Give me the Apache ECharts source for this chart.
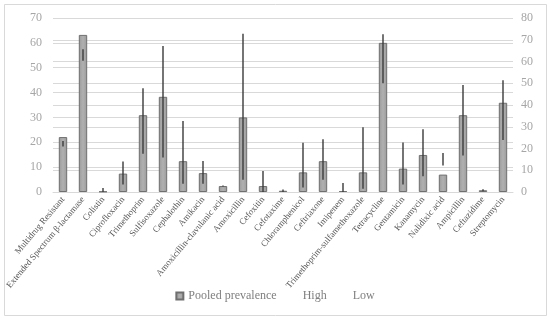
<!DOCTYPE html>
<html>
<head>
<meta charset="utf-8">
<script src="https://cdn.jsdelivr.net/npm/echarts@6/dist/echarts.min.js"></script>
<style>html,body{margin:0;padding:0;background:#fff;}#c{width:550px;height:326px;}</style>
</head>
<body>
<div id="c"></div>
<script>
const categories = ['Multidrug Resistant','Extended Spectrum β-lactamase','Colistin','Ciprofloxacin','Trimethoprim','Sulfisoxazole','Cephalothin','Amikacin','Amoxicillin-clavulanic acid','Amoxicillin','Cefoxitin','Cefotaxime','Chloramphenicol','Ceftriaxone','Imipenem','Trimethoprim-sulfamethoxazole','Tetracycline','Gentamicin','Kanamycin','Nalidixic acid','Ampicillin','Ceftazidime','Streptomycin'];
const pooled = [22.1, 63.2, 0.2, 7.4, 30.9, 38.3, 12.4, 7.6, 2.4, 30.0, 2.4, 0.5, 7.9, 12.4, 0.4, 7.9, 60.0, 9.4, 14.9, 7.0, 30.9, 0.7, 35.9];
const high = [23.5, 65.6, 1.8, 14.0, 47.7, 67.1, 32.7, 14.2, 3.0, 72.8, 9.6, 1.2, 22.6, 24.3, 4.1, 29.8, 72.5, 22.8, 28.9, 17.9, 49.2, 1.3, 51.4];
const low = [20.9, 60.4, 0.0, 3.4, 17.6, 15.9, 3.8, 3.8, 2.5, 5.6, 0.0, 0.0, 2.1, 5.6, 0.0, 1.5, 50.0, 3.5, 7.2, 12.2, 16.8, 0.4, 23.9];
const leftTicks = {min: 0, max: 70, interval: 10};
const rightTicks = {min: 0, max: 80, interval: 10};

const serif = '"Liberation Serif", "DejaVu Serif", serif';
const chart = echarts.init(document.getElementById('c'), null, {renderer: 'canvas'});
chart.setOption({
  animation: false,
  backgroundColor: '#fff',
  graphic: [{type: 'rect', shape: {x: 4.5, y: 4.5, width: 542, height: 311}, style: {fill: 'none', stroke: '#d9d9d9', lineWidth: 1}, silent: true, z: -1}],
  grid: {left: 53, right: 37, top: 18, bottom: 134, containLabel: false, outerBoundsMode: 'none'},
  legend: {
    bottom: 19, left: 'center',
    itemWidth: 7, itemHeight: 7, itemGap: 14,
    textStyle: {fontFamily: serif, fontSize: 12, color: '#7f7f7f'},
    data: [{name: 'Pooled prevalence', icon: 'rect'}, {name: 'High', icon: 'none'}, {name: 'Low', icon: 'none'}]
  },
  xAxis: {
    type: 'category', data: categories,
    axisLine: {show: true, lineStyle: {color: '#d9d9d9'}},
    axisTick: {show: false},
    axisLabel: {interval: 0, rotate: 50, fontFamily: serif, fontSize: 9, color: '#595959', margin: 6, hideOverlap: false}
  },
  yAxis: [
    {type: 'value', min: leftTicks.min, max: leftTicks.max, interval: leftTicks.interval,
     axisLine: {show: false}, axisTick: {show: false},
     axisLabel: {fontFamily: serif, fontSize: 12, color: '#a6a6a6', margin: 11},
     splitLine: {lineStyle: {color: '#d9d9d9', width: 1}}},
    {type: 'value', min: rightTicks.min, max: rightTicks.max, interval: rightTicks.interval,
     position: 'right',
     axisLine: {show: false}, axisTick: {show: false},
     axisLabel: {fontFamily: serif, fontSize: 12, color: '#a6a6a6', margin: 8},
     splitLine: {lineStyle: {color: '#d9d9d9', width: 1}}}
  ],
  series: [
    {name: 'Pooled prevalence', type: 'bar', yAxisIndex: 0, data: pooled, barWidth: '42%',
     itemStyle: {color: new echarts.graphic.LinearGradient(0, 0, 1, 0, [{offset: 0, color: '#9a9a9a'}, {offset: 0.5, color: '#b0b0b0'}, {offset: 1, color: '#9a9a9a'}]), borderColor: '#6f6f6f', borderWidth: 1}},
    {name: 'High', type: 'line', yAxisIndex: 1, data: high, symbol: 'none', lineStyle: {opacity: 0}, itemStyle: {color: '#ffffff'}},
    {name: 'Low', type: 'line', yAxisIndex: 1, data: low, symbol: 'none', lineStyle: {opacity: 0}, itemStyle: {color: '#ffffff'}},
    {name: 'hl', type: 'custom', yAxisIndex: 1, z: 5,
     data: categories.map((c, i) => [i, high[i], low[i]]),
     renderItem: function (params, api) {
       const a = api.coord([api.value(0), api.value(1)]);
       const b = api.coord([api.value(0), api.value(2)]);
       return {type: 'line', shape: {x1: a[0], y1: a[1], x2: b[0], y2: b[1]}, style: {stroke: '#3a3a3a', lineWidth: 1.4}};
     }}
  ]
});
</script>
</body>
</html>
